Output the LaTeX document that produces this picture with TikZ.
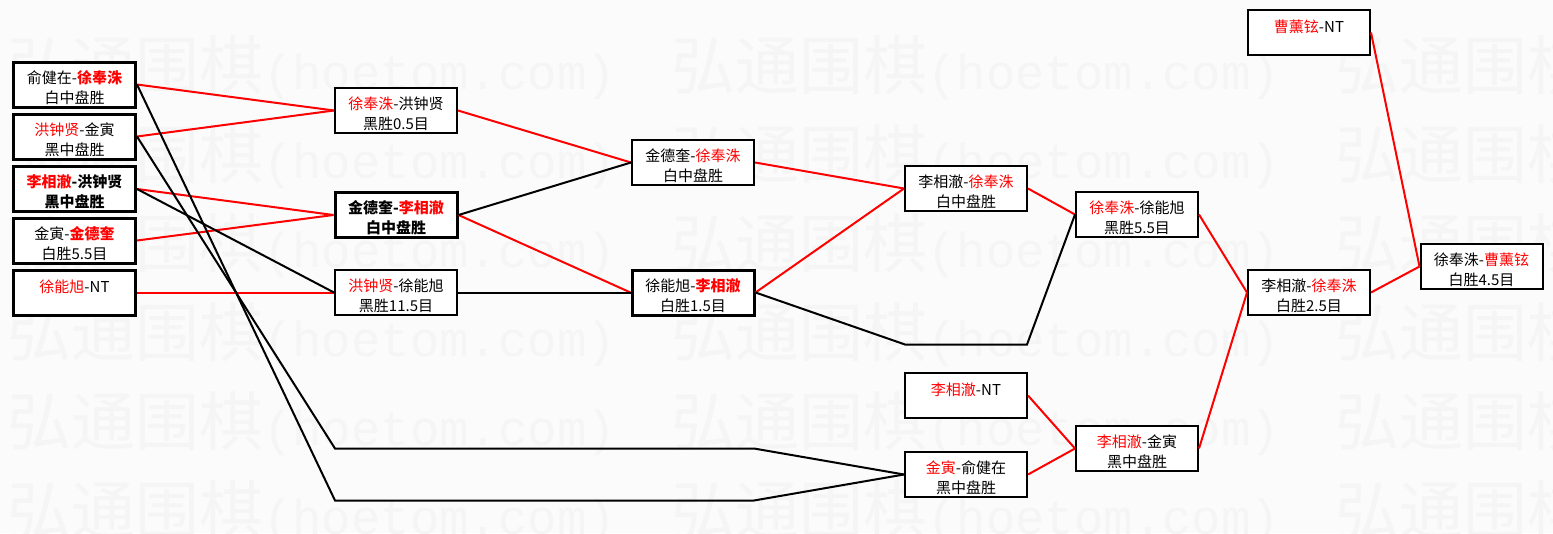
\documentclass[tikz,border=0pt]{standalone}
\usepackage{fontspec}
\setmainfont{Noto Sans CJK SC}
\newfontfamily\wmmono{Liberation Mono}
\usepackage{tikz}
\usetikzlibrary{arrows.meta}
\usetikzlibrary{calc}
\usepackage{xcolor}
\definecolor{bggray}{RGB}{251,251,251}
\definecolor{wmgray}{RGB}{245,245,245}
\newcommand{\wn}[1]{\textcolor{red}{#1}}
\newcommand{\bwn}[1]{\textcolor{red}{\bfseries #1}}
\newcommand{\res}[2]{\rule{0pt}{19pt}#1\\#2}

\begin{document}
\begin{tikzpicture}[x=1pt,y=-1pt,>=Stealth,
	game/.style={draw,fill=white,line width=2pt,minimum width=122pt,minimum height=45pt,
		inner sep=0pt,align=center,font=\fontsize{15}{20}\selectfont},
	gamethick/.style={game,line width=3pt},
	gamebold/.style={gamethick,font=\fontsize{15}{20}\selectfont\bfseries},
	win/.style={draw=red,line width=2pt},
	lose/.style={draw=black,line width=2pt}]
		
		\useasboundingbox (0,0) rectangle (1553,533);
		\fill[bggray] (0,0) rectangle (1553,533);
		
		% Watermark
		\begin{scope}
			\clip (0,0) rectangle (1553,533);
			\foreach \y in {68,157,246,335,424,513} {
				\foreach \x in {7,671,1335} {
					\node[anchor=west,inner sep=0pt,text=wmgray] (wm\x\y) at (\x,\y)
					{\fontsize{64}{64}\selectfont 弘通围棋\wmmono\fontsize{49}{49}\selectfont(hoetom.com)};
				}
			}
		\end{scope}
		
		% First round
		\node[gamethick] (a1) at (74.5,84.5)  {\res{俞健在-\bwn{徐奉洙}}{白中盘胜}};
		\node[gamethick] (a2) at (74.5,136.5) {\res{\wn{洪钟贤}-金寅}{黑中盘胜}};
		\node[gamebold]  (a3) at (74.5,189)   {\res{\wn{李相澈}-洪钟贤}{黑中盘胜}};
		\node[gamethick] (a4) at (74.5,240.5) {\res{金寅-\bwn{金德奎}}{白胜5.5目}};
		\node[gamethick] (a5) at (74.5,292.5) {\res{\wn{徐能旭}-NT}{~}};
		
		% Second round
		\node[game]     (b1) at (396,110.5) {\res{\wn{徐奉洙}-洪钟贤}{黑胜0.5目}};
		\node[gamebold] (b2) at (396,215)   {\res{金德奎-\wn{李相澈}}{白中盘胜}};
		\node[game]     (b3) at (396,292.5) {\res{\wn{洪钟贤}-徐能旭}{黑胜11.5目}};
		
		% Third round
		\node[game]      (c1) at (693,162.5) {\res{金德奎-\wn{徐奉洙}}{白中盘胜}};
		\node[gamethick] (c2) at (693,292.5) {\res{徐能旭-\bwn{李相澈}}{白胜1.5目}};
		
		% Fourth round
		\node[game] (d1) at (966,188.5) {\res{李相澈-\wn{徐奉洙}}{白中盘胜}};
		\node[game] (d2) at (966,395.5) {\res{\wn{李相澈}-NT}{~}};
		\node[game] (d3) at (966,474.5) {\res{\wn{金寅}-俞健在}{黑中盘胜}};
		
		% Fifth round
		\node[game] (e1) at (1137,214.5) {\res{\wn{徐奉洙}-徐能旭}{黑胜5.5目}};
		\node[game] (e2) at (1137,448.5) {\res{\wn{李相澈}-金寅}{黑中盘胜}};
		
		% Final rounds
		\node[game] (f0) at (1309,32.5)  {\res{\wn{曹薰铉}-NT}{~}};
		\node[game] (f1) at (1309,292.5) {\res{李相澈-\wn{徐奉洙}}{白胜2.5目}};
		\node[game] (g)  at (1481.5,266.5) {\res{徐奉洙-\wn{曹薰铉}}{白胜4.5目}};
		
		% Winners
		\foreach \s/\t in {a1/b1, a2/b1, a3/b2, a4/b2, a5/b3, b1/c1, b2/c2, c1/d1, c2/d1,
			d1/e1, d2/e2, d3/e2, e1/f1, e2/f1, f1/g, f0/g} {
			\draw[win] (\s.east) -- (\t.west);
		}
		
		% Losers
		\foreach \s/\t in {a3/b3, b2/c1, b3/c2} {
			\draw[lose] (\s.east) -- (\t.west);
		}
		\coordinate (p1) at (335,448.5);
		\coordinate (q1) at (754,448.5);
		\coordinate (p2) at (335,500.5);
		\coordinate (q2) at (754,500.5);
		\coordinate (p3) at (905,344.5);
		\coordinate (q3) at (1027,344.5);
		\draw[lose] (a2.east) -- (p1) -- (q1) -- (d3.west);
		\draw[lose] (a1.east) -- (p2) -- (q2) -- (d3.west);
		\draw[lose] (c2.east) -- (p3) -- (q3) -- (e1.west);
		
	\end{tikzpicture}
\end{document}
